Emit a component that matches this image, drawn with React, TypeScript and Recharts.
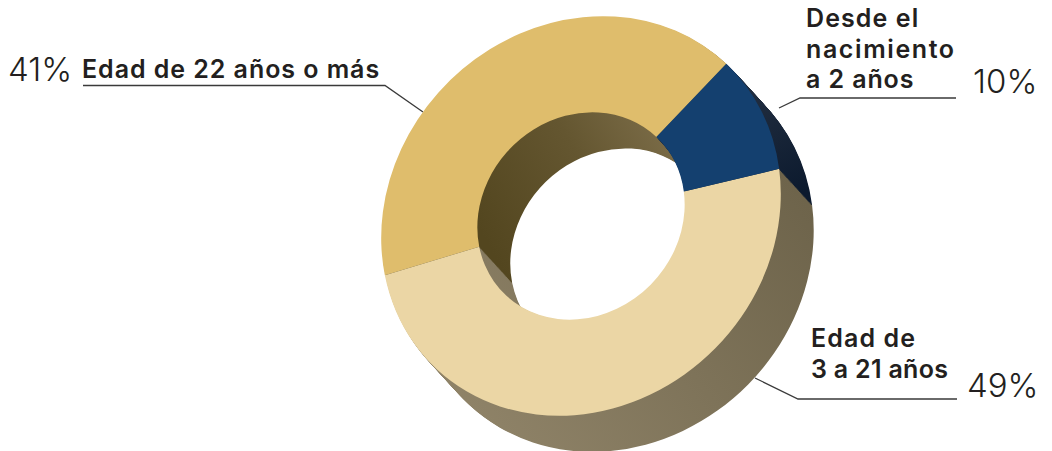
import { PieChart, Pie, Cell } from 'recharts';

const categories = ['Edad de 22 años o más', 'Edad de 3 a 21 años', 'Desde el nacimiento a 2 años'];
const shares = [41, 49, 10];
const faceColors = ['#dfbd6c', '#ebd6a5', '#14406f'];
const sideFills = ['url(#sideGold)', 'url(#sideCream)', 'url(#sideBlue)'];

const chartData = categories.map((name, i) => ({ name, value: shares[i] }));

const CX = 581;
const CY = 216;
const OUTER = 199.5;
const INNER = 103.5;
const START = 46.5;
const DEPTH_X = 35;
const DEPTH_STEPS = 38;
const depthLayers = Array.from({ length: DEPTH_STEPS }, (_, i) => DEPTH_STEPS - i);

const labelFont = 'Inter, "Noto Sans", sans-serif';

// the ring in the picture is a tilted ellipse, longer towards the upper right
const tiltCss = `.recharts-pie { transform-origin: ${CX}px ${CY}px; transform: matrix(1, -0.055, -0.055, 1, 0, 0); }`;

function Label({ x, y, lines, spacing }: { x: number; y: number; lines: string[]; spacing: number[] }) {
  return (
    <>
      {lines.map((line, i) => (
        <text
          key={line}
          x={x}
          y={y + i * 30.5}
          fontFamily={labelFont}
          fontSize={25}
          fontWeight={600}
          letterSpacing={spacing[i]}
          fill="#231f20"
        >
          {line}
        </text>
      ))}
    </>
  );
}

function Percent({ x, y, value }: { x: number; y: number; value: number }) {
  return (
    <text x={x} y={y} fontFamily={labelFont} fontSize={33} fontWeight={300} fill="#231f20">
      {value}%
    </text>
  );
}

export default function App() {
  return (
    <div style={{ position: 'absolute', left: 0, top: 0, width: 1052, height: 451, background: '#fff', overflow: 'hidden' }}>
      <style>{tiltCss}</style>
      <PieChart width={1052} height={451} margin={{ top: 0, right: 0, bottom: 0, left: 0 }}>
        <defs>
          <linearGradient id="sideGold" gradientUnits="userSpaceOnUse" x1="490" y1="240" x2="670" y2="130">
            <stop offset="0" stopColor="#53461f" />
            <stop offset="0.55" stopColor="#645630" />
            <stop offset="1" stopColor="#7d6e4a" />
          </linearGradient>
          <linearGradient id="sideCream" gradientUnits="userSpaceOnUse" x1="810" y1="220" x2="520" y2="450">
            <stop offset="0" stopColor="#6e644b" />
            <stop offset="1" stopColor="#8e8267" />
          </linearGradient>
          <linearGradient id="sideBlue" gradientUnits="userSpaceOnUse" x1="750" y1="80" x2="810" y2="200">
            <stop offset="0" stopColor="#243042" />
            <stop offset="1" stopColor="#0c1a2e" />
          </linearGradient>
        </defs>

        {depthLayers.map((d) => (
          <Pie
            key={d}
            data={chartData}
            dataKey="value"
            cx={CX + (d * DEPTH_X) / DEPTH_STEPS}
            cy={CY + d}
            outerRadius={OUTER}
            innerRadius={INNER}
            startAngle={START}
            endAngle={START + 360}
            stroke="none"
            isAnimationActive={false}
          >
            {chartData.map((c, i) => (
              <Cell key={c.name} fill={sideFills[i]} />
            ))}
          </Pie>
        ))}

        <Pie
          data={chartData}
          dataKey="value"
          cx={CX}
          cy={CY}
          outerRadius={OUTER}
          innerRadius={INNER}
          startAngle={START}
          endAngle={START + 360}
          stroke="none"
          isAnimationActive={false}
        >
          {chartData.map((c, i) => (
            <Cell key={c.name} fill={faceColors[i]} />
          ))}
        </Pie>

        <polyline points="83,85.5 385,85.5 423,112" fill="none" stroke="#3a3a3a" strokeWidth={1.3} />
        <polyline points="779,108 800,98 956,98" fill="none" stroke="#3a3a3a" strokeWidth={1.3} />
        <polyline points="755,378 798,399 957,399" fill="none" stroke="#3a3a3a" strokeWidth={1.3} />

        <Percent x={8} y={81} value={shares[0]} />
        <Label x={82} y={78} lines={[categories[0]]} spacing={[0.95]} />
        <Label x={806} y={27} lines={['Desde el', 'nacimiento', 'a 2 años']} spacing={[1.1, 1.6, 0.9]} />
        <Percent x={973} y={93} value={shares[2]} />
        <Label x={811} y={347} lines={['Edad de', '3 a 21 años']} spacing={[1.1, 0.3]} />
        <Percent x={967} y={397} value={shares[1]} />
      </PieChart>
    </div>
  );
}
